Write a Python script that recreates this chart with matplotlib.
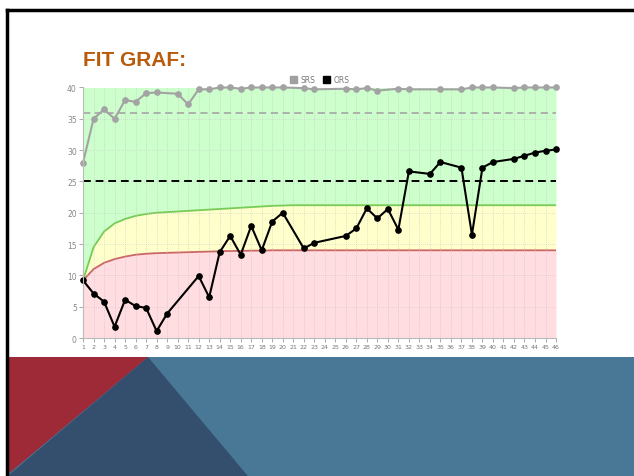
import numpy as np
import matplotlib.pyplot as plt
from matplotlib.patches import Polygon, Rectangle
from matplotlib.lines import Line2D

# x positions 1..46 (tests)
x_all = list(range(1, 47))

# band limits (upper = green border, lower = red border)
green_limit = [9.2, 14.5, 17.0, 18.3, 19.0, 19.5, 19.8, 20.0, 20.1, 20.2,
               20.3, 20.4, 20.5, 20.6, 20.7, 20.8, 20.9, 21.0, 21.1, 21.15,
               21.2, 21.2, 21.2, 21.2, 21.2, 21.2, 21.2, 21.2, 21.2, 21.2,
               21.2, 21.2, 21.2, 21.2, 21.2, 21.2, 21.2, 21.2, 21.2, 21.2,
               21.2, 21.2, 21.2, 21.2, 21.2, 21.2]
red_limit = [9.2, 11.0, 12.0, 12.6, 13.0, 13.3, 13.45, 13.55, 13.6, 13.65,
             13.7, 13.75, 13.8, 13.85, 13.9, 13.9, 13.95, 13.95, 14.0, 14.0,
             14.0, 14.0, 14.0, 14.0, 14.0, 14.0, 14.0, 14.0, 14.0, 14.0,
             14.0, 14.0, 14.0, 14.0, 14.0, 14.0, 14.0, 14.0, 14.0, 14.0,
             14.0, 14.0, 14.0, 14.0, 14.0, 14.0]

srs_x = [1, 2, 3, 4, 5, 6, 7, 8, 10, 11, 12, 13, 14, 15, 16, 17, 18, 19, 20,
         22, 23, 26, 27, 28, 29, 31, 32, 35, 37, 38, 39, 40, 42, 43, 44, 45, 46]
srs_y = [28.0, 35.0, 36.5, 35.0, 38.0, 37.7, 39.1, 39.2, 39.0, 37.3, 39.7, 39.7,
         40.0, 40.0, 39.8, 40.0, 40.0, 40.0, 40.0,
         39.9, 39.7, 39.8, 39.7, 39.9, 39.5, 39.8, 39.7, 39.7, 39.7, 40.0, 40.0,
         40.0, 39.9, 40.0, 40.0, 40.0, 40.0]

ors_x = [1, 2, 3, 4, 5, 6, 7, 8, 9, 12, 13, 14, 15, 16, 17, 18, 19, 20, 22, 23,
         26, 27, 28, 29, 30, 31, 32, 34, 35, 37, 38, 39, 40, 42, 43, 44, 45, 46]
ors_y = [9.2, 7.1, 5.8, 1.8, 6.1, 5.1, 4.8, 1.1, 3.9, 9.9, 6.5, 13.7, 16.3, 13.3,
         17.9, 14.0, 18.6, 20.0, 14.3, 15.2,
         16.3, 17.5, 20.7, 19.1, 20.6, 17.3, 26.6, 26.2, 28.1, 27.2, 16.5, 27.2,
         28.1, 28.6, 29.1, 29.6, 29.9, 30.1]

srs_target = 36
ors_target = 25
y_ticks = [0, 5, 10, 15, 20, 25, 30, 35, 40]

fig = plt.figure(figsize=(6.34, 4.77), dpi=100)

# slide decoration
fig.add_artist(Rectangle((0.012, 0.0), 0.988, 0.2495, transform=fig.transFigure,
                         color='#487896', lw=0))
fig.add_artist(Polygon([(0.2334, 0.2495), (0.012, 0.0), (0.391, 0.0)],
                       transform=fig.transFigure, color='#344f6e', lw=0))
fig.add_artist(Polygon([(0.012, 0.2495), (0.2334, 0.2495), (0.012, 0.003)],
                       transform=fig.transFigure, color='#9e2a38', lw=0))
fig.add_artist(Line2D([0.0115, 1.0], [0.9765, 0.9765], transform=fig.transFigure,
                      color='black', lw=2.5))
fig.add_artist(Line2D([0.0115, 0.0115], [0.0, 0.9765], transform=fig.transFigure,
                      color='black', lw=2.5))

fig.text(0.131, 0.861, 'FIT GRAF:', color='#b85c0c', fontsize=15,
         fontweight='bold', family='Liberation Sans')

ax = fig.add_axes([0.131, 0.2893, 0.746, 0.5252])

# background zones
ax.fill_between(x_all, green_limit, 40, color='#ccffcc', lw=0)
ax.fill_between(x_all, red_limit, green_limit, color='#ffffcc', lw=0)
ax.fill_between(x_all, 0, red_limit, color='#ffdde0', lw=0)
ax.plot(x_all, green_limit, color='#77cc55', lw=1.3)
ax.plot(x_all, red_limit, color='#cc6666', lw=1.3)

# grid
for xv in x_all:
    ax.axvline(xv, color='#c0c0c0', lw=0.5, linestyle=(0, (1, 2)))
for yv in y_ticks[1:-1]:
    ax.axhline(yv, color='#c8c8c8', lw=0.5, linestyle=(0, (1, 2)))

ax.axhline(srs_target, color='#aaaaaa', lw=1.3, linestyle=(0, (4, 2.5)))
ax.axhline(ors_target, color='black', lw=1.4, linestyle=(0, (4, 2.5)))

ax.plot(srs_x, srs_y, color='#a3a3a3', lw=1.5, marker='o', markersize=3.8,
        clip_on=False, label='SRS')
ax.plot(ors_x, ors_y, color='black', lw=1.5, marker='o', markersize=3.8,
        clip_on=False, label='ORS')

ax.set_xlim(1, 46)
ax.set_ylim(0, 40)
ax.set_xticks(x_all)
ax.set_yticks(y_ticks)
ax.tick_params(axis='both', labelsize=4.5, colors='#888888', length=3, width=0.5,
               pad=1.5)
ax.tick_params(axis='x', labelcolor='#777777')
ax.tick_params(axis='y', labelsize=5.5)
for s in ['top', 'right']:
    ax.spines[s].set_visible(False)
for s in ['left', 'bottom']:
    ax.spines[s].set_color('#bbbbbb')
    ax.spines[s].set_linewidth(0.8)

# legend with square patches
leg_handles = [Rectangle((0, 0), 1, 1, color='#a0a0a0'),
               Rectangle((0, 0), 1, 1, color='black')]
ax.legend(leg_handles, ['SRS', 'ORS'], loc='lower center', bbox_to_anchor=(0.5, 0.995),
          ncol=2, frameon=False, fontsize=5.5, labelcolor='#777777',
          handlelength=1.0, handleheight=1.0, handletextpad=0.4,
          columnspacing=1.0, borderpad=0.1)

plt.savefig('out.png', dpi=100)
